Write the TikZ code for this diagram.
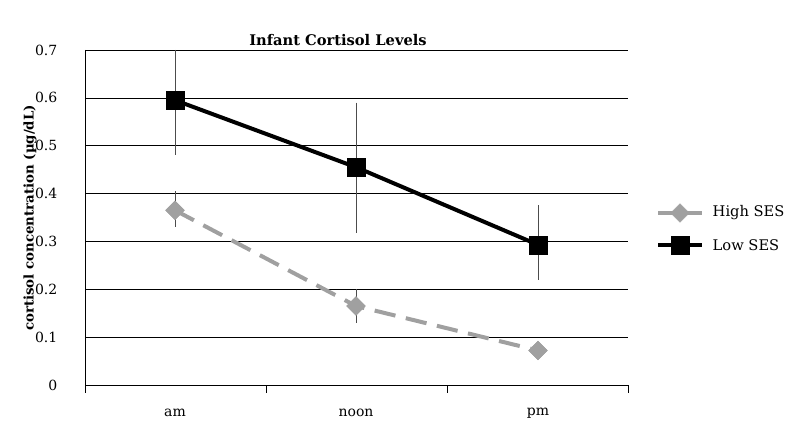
\documentclass[tikz,border=0pt]{standalone}
\usepackage{fontspec}
\setmainfont{DejaVu Serif}
\usetikzlibrary{shapes.geometric}
\definecolor{hiGray}{RGB}{160,160,160}
\tikzset{
  sqmark/.style={draw=black, fill=black, minimum size=13.5pt, inner sep=0pt},
  dmmark/.style={diamond, draw=hiGray, fill=hiGray, minimum size=14pt, inner sep=0pt},
  errbar/.style={draw=black!70, line width=0.5pt},
  lowline/.style={line width=3pt, black},
  highline/.style={line width=3pt, hiGray, dash pattern=on 16pt off 8pt},
  ticklbl/.style={font=\fontsize{10.5}{12}\selectfont, anchor=east},
  catlbl/.style={font=\fontsize{10.5}{12}\selectfont},
}
\begin{document}
\begin{tikzpicture}[x=0.75pt, y=-0.75pt]
  \useasboundingbox (0,0) rectangle (800,442);
  % grid
  \foreach \v/\t in {0/0,1/0.1,2/0.2,3/0.3,4/0.4,5/0.5,6/0.6,7/0.7} {
    \draw[black, line width=0.5pt] (85,{385-47.86*\v}) -- (628,{385-47.86*\v});
    \node[ticklbl] at (62,{385-47.86*\v}) {\t};
  }
  \draw[black, line width=0.5pt] (85,50) -- (85,385);
  \foreach \x in {85,266,447,628} \draw[black, line width=0.5pt] (\x,385) -- (\x,393);
  \node[catlbl] (xam) at (175,413) {am};
  \node[catlbl] (xnoon) at (356,413) {noon};
  \node[catlbl] (xpm) at (538,413) {pm};
  \node[font=\bfseries\fontsize{11}{13}\selectfont] (title) at (338,40) {Infant Cortisol Levels};
  \node[font=\bfseries\fontsize{10}{12}\selectfont, rotate=90] (ylab) at (30,218) {cortisol concentration (µg/dL)};
  % error bars
  \draw[errbar] (175,50) -- (175,155.3);
  \draw[errbar] (356,102.6) -- (356,233.3);
  \draw[errbar] (538,205.5) -- (538,279.7);
  \draw[errbar] (175,191.2) -- (175,227);
  \draw[errbar] (356,289.3) -- (356,322.8);
  \draw[errbar] (538,346.7) -- (538,353.9);
  % high SES
  \node[dmmark] (h1) at (175,210.3) {};
  \node[dmmark] (h2) at (356,306) {};
  \node[dmmark] (h3) at (538,350.5) {};
  \draw[highline] (h1.center) -- (h2.center) -- (h3.center);
  \node[dmmark] at (h1) {};
  \node[dmmark] at (h2) {};
  \node[dmmark] at (h3) {};
  % low SES
  \coordinate (l1) at (175,100.2);
  \coordinate (l2) at (356,167.2);
  \coordinate (l3) at (538,244.8);
  \draw[lowline] (l1) -- (l2) -- (l3);
  \node[sqmark] (m1) at (l1) {};
  \node[sqmark] (m2) at (l2) {};
  \node[sqmark] (m3) at (l3) {};
  % legend
  \coordinate (ha) at (658,213);
  \coordinate (hb) at (702,213);
  \draw[line width=3pt, hiGray] (ha) -- (hb);
  \node[dmmark] (hk) at (680,213) {};
  \node[anchor=west, font=\fontsize{11}{13}\selectfont] (hl) at (708,213) {High SES};
  \coordinate (la) at (658,245);
  \coordinate (lb) at (702,245);
  \draw[lowline] (la) -- (lb);
  \node[sqmark] (lk) at (680,245) {};
  \node[anchor=west, font=\fontsize{11}{13}\selectfont] (ll) at (708,245) {Low SES};
\end{tikzpicture}
\end{document}
